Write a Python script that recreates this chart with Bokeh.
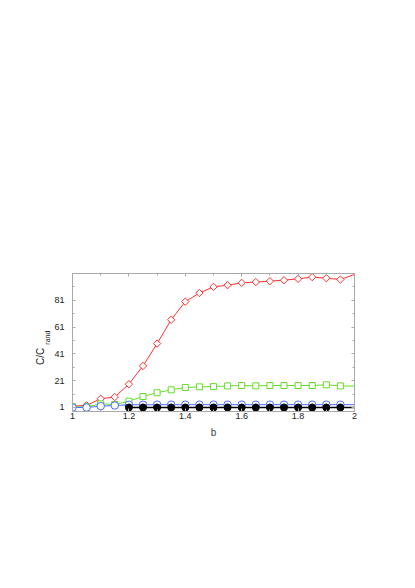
import math
from bokeh.plotting import figure
from bokeh.models import Range1d, LinearAxis, FixedTicker, Title
from bokeh.embed import file_html
from bokeh.resources import INLINE

# ---- data ----
b = [1.0, 1.05, 1.1, 1.15, 1.2, 1.25, 1.3, 1.35, 1.4, 1.45, 1.5,
     1.55, 1.6, 1.65, 1.7, 1.75, 1.8, 1.85, 1.9, 1.95, 2.0]
red = [2.0, 2.6, 7.5, 8.8, 18.4, 32.0, 48.7, 66.5, 80.0, 86.4, 91.0,
       92.3, 94.0, 94.6, 95.3, 96.0, 97.0, 98.3, 97.5, 96.5, 100.3]
green = [1.5, 1.5, 3.7, 3.2, 5.7, 9.2, 12.0, 14.2, 15.9, 16.4, 16.6,
         17.1, 17.4, 17.1, 17.4, 17.4, 17.4, 17.4, 17.9, 17.1, 16.9]
blue = [1.0, 1.0, 2.0, 2.5, 3.0, 3.0, 3.1, 3.1, 3.1, 3.1, 3.1,
        3.1, 3.1, 3.1, 3.1, 3.1, 3.1, 3.1, 3.1, 3.1, 3.1]
black_b = [1.2, 1.25, 1.3, 1.35, 1.4, 1.45, 1.5, 1.55, 1.6, 1.65, 1.7,
           1.75, 1.8, 1.85, 1.9, 1.95, 2.0]
black = [1.0] * 17

x_ticks = [1.0, 1.2, 1.4, 1.6, 1.8, 2.0]
x_minor = [1.1, 1.3, 1.5, 1.7, 1.9]
y_ticks = [1, 21, 41, 61, 81]
y_minor = [11, 31, 51, 71, 91]
x_tick_labels = {1.0: "1", 1.2: "1.2", 1.4: "1.4", 1.6: "1.6", 1.8: "1.8", 2.0: "2"}

FONT = "Liberation Sans"
AXIS_COL = "#a8a8a8"
TEXT_COL = "#222222"
RED = "#ff3030"
GREEN = "#66dd2a"
BLUE = "#4a6cff"
NB = "\u00a0"

W, H = 406, 578
p = figure(width=W, height=H, output_backend="svg", toolbar_location=None,
           x_range=Range1d(1.0, 2.0), y_range=Range1d(-2.0, 101.0),
           min_border_left=72, min_border_right=52,
           min_border_top=273, min_border_bottom=167)
p.outline_line_color = None
p.xgrid.visible = False
p.ygrid.visible = False
p.background_fill_color = "white"

def style_axis(ax, ticks, minor, show_labels):
    ax.ticker = FixedTicker(ticks=ticks, minor_ticks=minor)
    ax.axis_line_color = AXIS_COL
    ax.major_tick_line_color = AXIS_COL
    ax.minor_tick_line_color = AXIS_COL
    ax.major_tick_in = 3
    ax.major_tick_out = 0
    ax.minor_tick_in = 2
    ax.minor_tick_out = 0
    ax.major_label_text_font = FONT
    ax.major_label_text_font_size = "9px"
    ax.major_label_text_color = TEXT_COL if show_labels else None
    ax.axis_label_text_font = FONT
    ax.axis_label_text_font_style = "normal"

xa = p.xaxis[0]
style_axis(xa, x_ticks, x_minor, True)
xa.major_label_overrides = x_tick_labels
xa.major_label_standoff = 1
xa.axis_label = "b"
xa.axis_label_text_font_size = "10px"
xa.axis_label_standoff = 5

ya = p.yaxis[0]
style_axis(ya, y_ticks, y_minor, True)
ya.major_label_standoff = 8

top = LinearAxis()
style_axis(top, x_ticks, x_minor, False)
top.major_label_text_font_size = "0px"
p.add_layout(top, "above")

right = LinearAxis()
style_axis(right, y_ticks, y_minor, False)
right.major_label_text_font_size = "0px"
p.add_layout(right, "right")

# ---- y axis label C/C_rand, as two rotated side titles ----
t_rand = Title(text=NB * 5 + "rand", align="center", standoff=1,
               vertical_align="bottom", text_font=FONT, text_font_size="7px",
               text_font_style="normal", text_color=TEXT_COL)
t_cc = Title(text="C/C" + NB * 10, align="center", standoff=-8,
             vertical_align="bottom", text_font=FONT, text_font_size="10px",
             text_font_style="normal", text_color=TEXT_COL)
p.add_layout(t_rand, "left")
p.add_layout(t_cc, "left")

# ---- series ----
p.line(b, red, line_color=RED, line_width=1)
p.scatter(b[:-1], red[:-1], marker="square", angle=math.pi / 4, size=5.2,
          line_color=RED, fill_color="white", line_width=1)

p.line(b, green, line_color=GREEN, line_width=1)
p.scatter(b[:-1], green[:-1], marker="square", size=6,
          line_color=GREEN, fill_color="white", line_width=1)

p.line(b, blue, line_color=BLUE, line_width=1)
p.scatter(b[:-1], blue[:-1], marker="circle", size=7.5,
          line_color=BLUE, fill_color="white", line_width=1)

p.line(black_b, black, line_color="black", line_width=1.5)
p.scatter(black_b[:-1], black[:-1], marker="circle", size=7,
          line_color="black", fill_color="black")

open("out.html", "w").write(file_html(p, INLINE))
